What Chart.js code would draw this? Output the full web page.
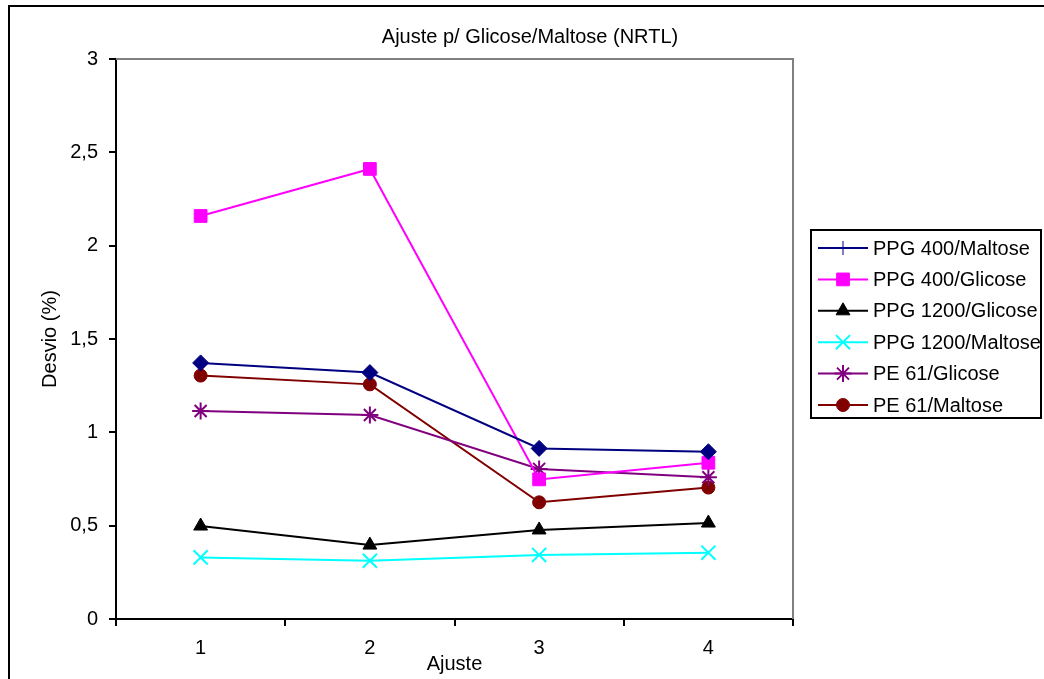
<!DOCTYPE html>
<html>
<head>
<meta charset="utf-8">
<title>Ajuste p/ Glicose/Maltose (NRTL)</title>
<script src="https://cdn.jsdelivr.net/npm/chart.js"></script>
<style>
  html, body { margin: 0; padding: 0; background: #fff; overflow: hidden; }
  #wrap { position: relative; width: 1044px; height: 679px; }
</style>
</head>
<body>
<div id="wrap"><canvas id="desvio-chart"></canvas></div>
<script>
var ajustes = ['1', '2', '3', '4'];

var ppg400Maltose = [1.372, 1.320, 0.914, 0.896];
var ppg400Glicose = [2.159, 2.411, 0.748, 0.837];
var ppg1200Glicose = [0.498, 0.396, 0.477, 0.514];
var ppg1200Maltose = [0.330, 0.312, 0.343, 0.355];
var pe61Glicose = [1.114, 1.093, 0.804, 0.759];
var pe61Maltose = [1.304, 1.257, 0.625, 0.704];

var yTicks = [0, 0.5, 1, 1.5, 2, 2.5, 3];

var FONT = "'Liberation Sans', Arial, sans-serif";
var FONT_SIZE = 20;
var PAD_LEFT = 38;

function serie(label, data, color, style, radius, legendStyle) {
  var thin = (style === 'crossRot' || style === 'star');
  return {
    label: label,
    data: data,
    borderColor: color,
    backgroundColor: color,
    borderWidth: 2,
    tension: 0,
    fill: false,
    pointStyle: style,
    pointRadius: radius,
    pointHoverRadius: radius,
    pointBorderWidth: thin ? 2 : 1,
    legendStyle: legendStyle || style
  };
}

// frame, plot border, title and legend drawn straight on the canvas
var decor = {
  id: 'decor',
  beforeDatasetsDraw: function(chart) {
    var ctx = chart.ctx, a = chart.chartArea;
    ctx.save();
    ctx.strokeStyle = '#808080';
    ctx.lineWidth = 2;
    ctx.beginPath();
    ctx.moveTo(a.left, a.top);
    ctx.lineTo(a.right, a.top);
    ctx.lineTo(a.right, a.bottom);
    ctx.stroke();
    ctx.restore();
  },
  afterDraw: function(chart) {
    var ctx = chart.ctx;
    ctx.save();
    // outer frame
    ctx.strokeStyle = '#000';
    ctx.lineWidth = 2;
    ctx.beginPath();
    ctx.moveTo(9, 700);
    ctx.lineTo(9, 6);
    ctx.lineTo(1100, 6);
    ctx.stroke();

    // title
    ctx.fillStyle = '#000';
    ctx.font = FONT_SIZE + 'px ' + FONT;
    ctx.textAlign = 'center';
    ctx.textBaseline = 'middle';
    ctx.fillText('Ajuste p/ Glicose/Maltose (NRTL)', 530, 37);

    // legend
    ctx.strokeRect(811, 230, 230, 188);
    var ds = chart.data.datasets;
    ctx.textAlign = 'left';
    for (var i = 0; i < ds.length; i++) {
      var y = 248 + i * 31.4;
      ctx.strokeStyle = ds[i].borderColor;
      ctx.fillStyle = ds[i].borderColor;
      ctx.lineWidth = 2;
      ctx.beginPath();
      ctx.moveTo(818, y);
      ctx.lineTo(868, y);
      ctx.stroke();
      ctx.lineWidth = ds[i].pointBorderWidth;
      Chart.helpers.drawPoint(ctx, {
        pointStyle: ds[i].legendStyle,
        radius: ds[i].legendStyle === 'cross' ? 7 : ds[i].pointRadius,
        borderWidth: ds[i].legendStyle === 'cross' ? 2 : ds[i].pointBorderWidth,
        rotation: 0
      }, 843, y);
      ctx.fillStyle = '#000';
      ctx.fillText(ds[i].label, 873, y + 1);
    }
    ctx.restore();
  }
};

var ctx = document.getElementById('desvio-chart').getContext('2d');
var chart = new Chart(ctx, {
  type: 'line',
  data: {
    labels: ajustes,
    datasets: [
      serie('PPG 400/Maltose', ppg400Maltose, '#000080', 'rectRot', 8, 'cross'),
      serie('PPG 400/Glicose', ppg400Glicose, '#FF00FF', 'rect', 9),
      serie('PPG 1200/Glicose', ppg1200Glicose, '#000000', 'triangle', 8),
      serie('PPG 1200/Maltose', ppg1200Maltose, '#00FFFF', 'crossRot', 10),
      serie('PE 61/Glicose', pe61Glicose, '#800080', 'star', 8.5),
      serie('PE 61/Maltose', pe61Maltose, '#800000', 'circle', 6.5)
    ]
  },
  options: {
    responsive: true,
    maintainAspectRatio: false,
    animation: false,
    layout: { padding: { left: PAD_LEFT, top: 59, right: 251, bottom: 0 } },
    plugins: {
      legend: { display: false },
      title: { display: false },
      tooltip: { enabled: false }
    },
    scales: {
      x: {
        type: 'category',
        offset: true,
        afterFit: function(s) { s.height = 60; },
        grid: { offset: true, drawOnChartArea: false, drawTicks: true, tickLength: 7, color: '#000', lineWidth: 2 },
        border: { display: true, color: '#000', width: 2 },
        ticks: { color: '#000', padding: 10, font: { family: FONT, size: FONT_SIZE }, maxRotation: 0 },
        title: { display: true, text: 'Ajuste', color: '#000', padding: { top: 3, bottom: 3 }, font: { family: FONT, size: FONT_SIZE } }
      },
      y: {
        min: 0,
        max: 3,
        afterFit: function(s) { s.width = 116 - PAD_LEFT; },
        afterBuildTicks: function(s) { s.ticks = yTicks.map(function(v) { return { value: v }; }); },
        grid: { drawOnChartArea: false, drawTicks: true, tickLength: 7, color: '#000', lineWidth: 2 },
        border: { display: true, color: '#000', width: 2 },
        ticks: {
          color: '#000',
          padding: 11,
          font: { family: FONT, size: FONT_SIZE },
          callback: function(v) { return String(v).replace('.', ','); }
        },
        title: { display: true, text: 'Desvio (%)', color: '#000', padding: 0, font: { family: FONT, size: FONT_SIZE } }
      }
    }
  },
  plugins: [decor]
});
</script>
</body>
</html>
